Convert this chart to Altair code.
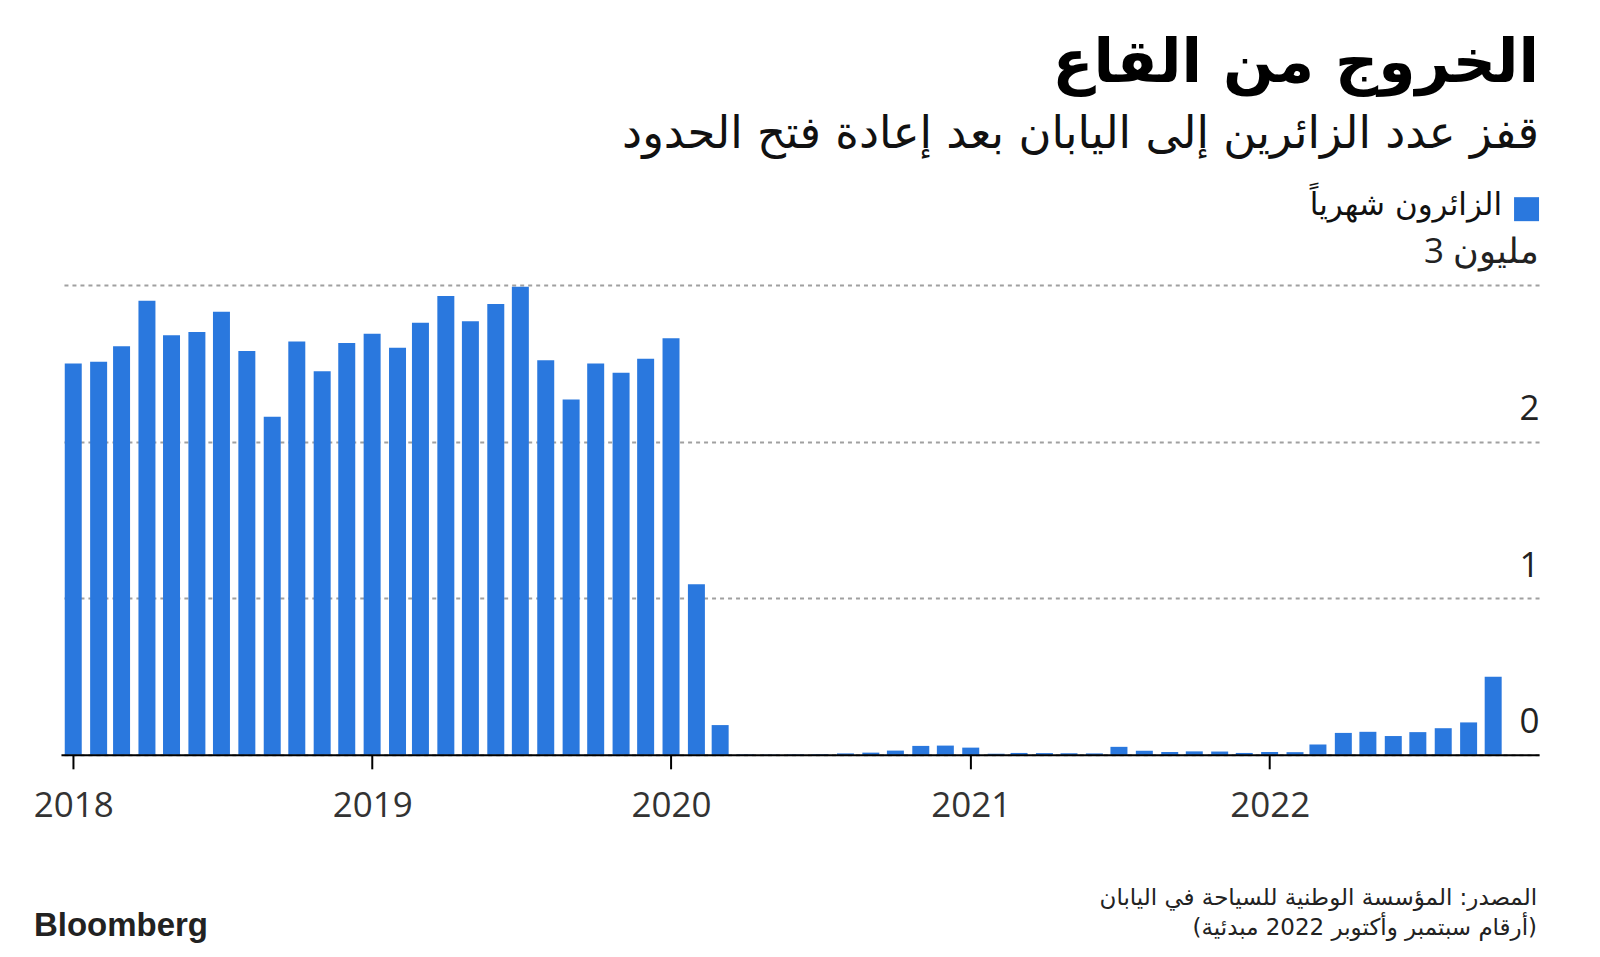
import altair as alt
import pandas as pd

# Monthly visitors to Japan (millions), Jan 2018 - Oct 2022
months = [f"{y}-{m:02d}-01" for y in range(2018, 2023) for m in range(1, 13)][:58]
visitors = [
    2.50, 2.51, 2.61, 2.90, 2.68, 2.70, 2.83, 2.58, 2.16, 2.64, 2.45, 2.63,
    2.69, 2.60, 2.76, 2.93, 2.77, 2.88, 2.99, 2.52, 2.27, 2.50, 2.44, 2.53,
    2.66, 1.09, 0.19, 0.003, 0.002, 0.003, 0.004, 0.009, 0.014, 0.027, 0.057, 0.059,
    0.046, 0.007, 0.012, 0.011, 0.010, 0.009, 0.051, 0.026, 0.018, 0.022, 0.021, 0.012,
    0.018, 0.017, 0.066, 0.140, 0.147, 0.120, 0.145, 0.170, 0.207, 0.499,
]
year_ticks = [2018, 2019, 2020, 2021, 2022]
y_ticks = [0, 1, 2, 3]

title_text = "الخروج من القاع"
subtitle_text = "قفز عدد الزائرين إلى اليابان بعد إعادة فتح الحدود"
legend_text = "الزائرون شهرياً"
unit_label = "3 مليون"
source_1 = "المصدر: المؤسسة الوطنية للسياحة في اليابان"
source_2 = "(أرقام سبتمبر وأكتوبر 2022 مبدئية)"

df = pd.DataFrame({"month": months, "visitors": visitors})

BLUE = "#2a78de"
AR_FONT = "DejaVu Sans"
NUM_FONT = "Open Sans"
W, H = 1479, 470

x_enc = alt.X(
    "month:T",
    scale=alt.Scale(
        type="utc",
        padding=0,
        domain=[alt.DateTime(year=2017, month=12, date=17, utc=True),
                alt.DateTime(year=2022, month=11, date=26, utc=True)],
    ),
    axis=alt.Axis(
        title=None,
        values=[alt.DateTime(year=y, month=1, date=1, utc=True) for y in year_ticks],
        labelExpr="utcFormat(datum.value, '%Y')",
        grid=False,
        domain=True,
        domainColor="#000000",
        domainWidth=2,
        ticks=True,
        tickSize=14,
        tickColor="#000000",
        tickWidth=2,
        labelFont=NUM_FONT,
        labelFontSize=35,
        labelColor="#333333",
        labelBaseline="alphabetic",
        labelPadding=48,
        zindex=1,
    ),
)

y_scale = alt.Scale(domain=[0, 3], nice=False, zero=True)
y_enc = alt.Y(
    "visitors:Q",
    scale=y_scale,
    axis=alt.Axis(
        title=None,
        orient="right",
        values=y_ticks,
        format="d",
        labelExpr="datum.value == 3 ? '' : format(datum.value, 'd')",
        grid=True,
        gridColor="#a0a0a0",
        gridDash=[4, 4],
        gridWidth=2,
        domain=False,
        ticks=False,
        labelAlign="right",
        labelBaseline="alphabetic",
        labelPadding=0,
        labelOffset=-22,
        labelFont=NUM_FONT,
        labelFontSize=35,
        labelColor="#222222",
    ),
)

bars = alt.Chart(df).mark_bar(width=17, color=BLUE).encode(x=x_enc, y=y_enc)

# top y-axis label with unit, placed through the shared y scale
unit = alt.Chart(pd.DataFrame({"visitors": [y_ticks[-1]], "t": [unit_label]})).mark_text(
    align="right", baseline="alphabetic", fontSize=35, font=NUM_FONT,
    color="#222222", dir="rtl", dy=-22,
).encode(text="t:N", x=alt.value(W), y=alt.Y("visitors:Q"))

def txt(text, x, y, size, align="right", weight="normal", font=AR_FONT, color="#111111", d="rtl"):
    return alt.Chart(pd.DataFrame({"t": [text]})).mark_text(
        align=align, baseline="alphabetic", fontSize=size, fontWeight=weight,
        font=font, color=color, dir=d,
    ).encode(text="t:N", x=alt.value(x), y=alt.value(y))

title = txt(title_text, W, -203, 60, weight="bold", color="#000000")
subtitle = txt(subtitle_text, W, -137, 45, color="#111111")
legend_sq = alt.Chart(pd.DataFrame({"a": [0]})).mark_rect(color=BLUE).encode(
    x=alt.value(W - 25), x2=alt.value(W), y=alt.value(-88), y2=alt.value(-64)
)
legend_t = txt(legend_text, W - 37, -70, 31)
src1 = txt(source_1, W - 2, 620, 23, color="#222222")
src2 = txt(source_2, W - 2, 650, 23, color="#222222")
bbg = txt("Bloomberg", -27, 651, 33, align="left", weight="bold",
          font="Liberation Sans", color="#222222", d="ltr")

chart = alt.layer(
    bars, unit, title, subtitle, legend_sq, legend_t, src1, src2, bbg
).properties(
    width=W, height=H,
    autosize=alt.AutoSizeParams(type="none"),
    padding={"left": 61, "top": 285, "right": 61, "bottom": 202},
    background="#ffffff",
).configure_view(stroke=None)

chart.save("out.html", embed_options={"renderer": "svg", "actions": False})
